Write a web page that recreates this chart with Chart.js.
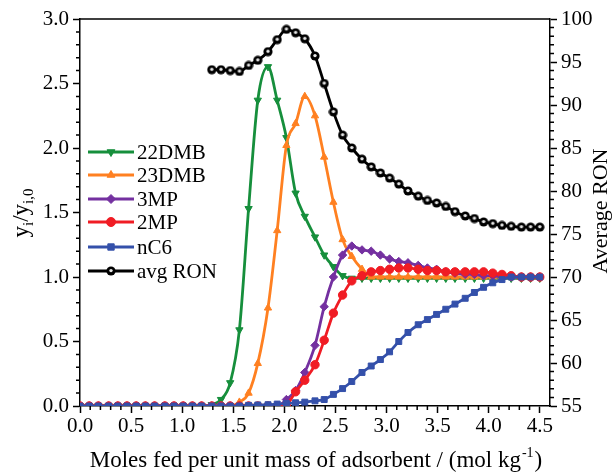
<!DOCTYPE html>
<html>
<head>
<meta charset="utf-8">
<script src="https://cdn.jsdelivr.net/npm/chart.js@4.4.1/dist/chart.umd.min.js"></script>
<style>
  html, body { margin: 0; padding: 0; background: #fff; }
  #wrap { width: 612px; height: 474px; }
</style>
</head>
<body>
<div id="wrap"><canvas id="chart" width="612" height="474"></canvas></div>
<script>
// x positions (mol/kg), same grid for every series
const xVals = [0.00, 0.09, 0.18, 0.28, 0.37, 0.46, 0.55, 0.64, 0.73, 0.83,
  0.92, 1.01, 1.10, 1.19, 1.29, 1.38, 1.47, 1.56, 1.65, 1.74,
  1.84, 1.93, 2.02, 2.11, 2.20, 2.30, 2.39, 2.48, 2.57, 2.66,
  2.76, 2.85, 2.94, 3.03, 3.12, 3.21, 3.31, 3.40, 3.49, 3.58,
  3.67, 3.77, 3.86, 3.95, 4.04, 4.13, 4.22, 4.32, 4.41, 4.50];

const dmb22 = [0, 0, 0, 0, 0, 0, 0, 0, 0, 0,
  0, 0, 0, 0, 0.01, 0.05, 0.18, 0.59, 1.53, 2.37,
  2.63, 2.37, 2.08, 1.65, 1.47, 1.31, 1.17, 1.08, 1.01, 0.99,
  0.99, 0.99, 0.99, 0.99, 0.99, 0.99, 0.99, 0.99, 0.99, 0.99,
  0.99, 0.99, 0.99, 0.99, 0.99, 0.99, 0.99, 0.99, 0.99, 0.99];

const dmb23 = [0, 0, 0, 0, 0, 0, 0, 0, 0, 0,
  0, 0, 0, 0, 0, 0, 0, 0.03, 0.10, 0.33,
  0.76, 1.36, 2.02, 2.19, 2.40, 2.25, 1.93, 1.58, 1.29, 1.16,
  1.06, 1.00, 1.00, 1.00, 1.00, 1.00, 1.00, 1.00, 1.00, 1.00,
  1.00, 1.00, 1.00, 1.00, 1.00, 1.00, 1.00, 1.00, 1.00, 1.00];

const mp3 = [0, 0, 0, 0, 0, 0, 0, 0, 0, 0,
  0, 0, 0, 0, 0, 0, 0, 0, 0, 0,
  0, 0, 0.05, 0.12, 0.26, 0.47, 0.77, 1.00, 1.17, 1.24,
  1.21, 1.20, 1.17, 1.14, 1.12, 1.11, 1.09, 1.07, 1.06, 1.04,
  1.03, 1.02, 1.02, 1.01, 1.01, 1.00, 1.00, 1.00, 1.00, 1.00];

const mp2 = [0, 0, 0, 0, 0, 0, 0, 0, 0, 0,
  0, 0, 0, 0, 0, 0, 0, 0, 0, 0,
  0, 0, 0.01, 0.11, 0.20, 0.32, 0.51, 0.72, 0.86, 0.97,
  1.01, 1.04, 1.05, 1.06, 1.07, 1.07, 1.06, 1.05, 1.05, 1.04,
  1.04, 1.04, 1.04, 1.04, 1.03, 1.02, 1.01, 1.00, 1.00, 1.00];

const nc6 = [0, 0, 0, 0, 0, 0, 0, 0, 0, 0,
  0, 0, 0, 0, 0, 0, 0, 0, 0.005, 0.008,
  0.01, 0.015, 0.02, 0.025, 0.03, 0.04, 0.05, 0.09, 0.135, 0.19,
  0.26, 0.31, 0.36, 0.42, 0.50, 0.57, 0.63, 0.67, 0.71, 0.75,
  0.79, 0.835, 0.88, 0.92, 0.955, 0.98, 1.00, 1.00, 1.00, 1.00];

const avgRon = [null, null, null, null, null, null, null, null, null, null,
  null, null, null, null, 94.1, 94.1, 94.0, 93.9, 94.6, 95.2,
  96.2, 97.6, 98.8, 98.4, 97.7, 95.7, 92.5, 89.2, 86.5, 85.0,
  83.7, 82.8, 82.1, 81.5, 80.8, 80.0, 79.4, 78.9, 78.6, 78.2,
  77.6, 77.1, 76.8, 76.4, 76.2, 76.0, 75.9, 75.8, 75.8, 75.8];

const xTicks = [0, 0.5, 1, 1.5, 2, 2.5, 3, 3.5, 4, 4.5];
const serif = '"Liberation Serif", "Times New Roman", serif';

// black ball marker with a small white highlight
const ball = document.createElement('canvas');
ball.width = 10; ball.height = 10;
(function () {
  const c = ball.getContext('2d');
  c.fillStyle = '#000';
  c.beginPath(); c.arc(5, 5, 4.6, 0, Math.PI * 2); c.fill();
  c.fillStyle = '#e8e8e8';
  c.beginPath(); c.arc(5, 4.6, 1.7, 0, Math.PI * 2); c.fill();
})();

function pts(arr) {
  const out = [];
  arr.forEach((v, i) => {
    if (v !== null) out.push({ x: xVals[i], y: v });
  });
  return out;
}

function series(label, arr, color, style, opts) {
  return Object.assign({
    label,
    data: pts(arr),
    borderColor: color,
    backgroundColor: color,
    pointBackgroundColor: color,
    pointBorderColor: color,
    pointStyle: style,
    pointRadius: 4.2,
    pointBorderWidth: 1,
    borderWidth: 2.8,
    cubicInterpolationMode: 'monotone',
    yAxisID: 'y'
  }, opts || {});
}

const datasets = [
  series('22DMB', dmb22, '#168f3c', 'triangle', { pointRotation: 180, order: 5 }),
  series('23DMB', dmb23, '#ff8021', 'triangle', { order: 4 }),
  series('3MP', mp3, '#7430a0', 'rectRot', { order: 3 }),
  series('2MP', mp2, '#f01c24', 'circle', { order: 2 }),
  series('nC6', nc6, '#3450aa', 'rect', { order: 1 }),
  series('avg RON', avgRon, '#000000', ball, { yAxisID: 'y1', order: 0 })
];

const extras = {
  id: 'extras',
  afterDraw(chart) {
    const ctx = chart.ctx;
    const a = chart.chartArea;
    const xs = chart.scales.x, ys = chart.scales.y, yr = chart.scales.y1;
    ctx.save();
    ctx.strokeStyle = '#000';
    ctx.lineWidth = 1.5;
    ctx.beginPath();
    ctx.moveTo(a.left, a.top);
    ctx.lineTo(a.right, a.top);
    // minor ticks
    for (let i = 1; i < 46; i++) {
      if (i % 5 === 0) continue;
      const px = xs.getPixelForValue(i / 10);
      ctx.moveTo(px, a.bottom);
      ctx.lineTo(px, a.bottom + 4);
    }
    for (let i = 1; i < 30; i++) {
      if (i % 5 === 0) continue;
      const py = ys.getPixelForValue(i / 10);
      ctx.moveTo(a.left - 4, py);
      ctx.lineTo(a.left, py);
    }
    for (let v = 56; v < 100; v++) {
      if (v % 5 === 0) continue;
      const py = yr.getPixelForValue(v);
      ctx.moveTo(a.right, py);
      ctx.lineTo(a.right + 4, py);
    }
    ctx.stroke();

    // legend
    const rows = [152, 175, 199, 222, 247, 271];
    chart.data.datasets.forEach((ds, i) => {
      const y = rows[i];
      ctx.strokeStyle = ds.borderColor;
      ctx.lineWidth = 2.8;
      ctx.beginPath();
      ctx.moveTo(88, y);
      ctx.lineTo(134, y);
      ctx.stroke();
      ctx.fillStyle = ds.pointBackgroundColor;
      ctx.strokeStyle = ds.pointBorderColor;
      ctx.lineWidth = ds.pointBorderWidth;
      Chart.helpers.drawPoint(ctx, {
        pointStyle: ds.pointStyle, radius: 4.5,
        rotation: ds.pointRotation || 0, borderWidth: ds.pointBorderWidth
      }, 111, y);
      ctx.fillStyle = '#000';
      ctx.font = '21px ' + serif;
      ctx.textAlign = 'left';
      ctx.textBaseline = 'middle';
      ctx.fillText(ds.label, 137, y + 1);
    });

    // x title with superscript
    ctx.fillStyle = '#000';
    ctx.textBaseline = 'alphabetic';
    ctx.textAlign = 'left';
    const main = 'Moles fed per unit mass of adsorbent / (mol kg';
    ctx.font = '23px ' + serif;
    const w1 = ctx.measureText(main).width;
    ctx.font = '14px ' + serif;
    const w2 = ctx.measureText('-1').width;
    ctx.font = '23px ' + serif;
    const w3 = ctx.measureText(')').width;
    let x0 = (a.left + a.right) / 2 - (w1 + w2 + w3) / 2;
    const yb = 467;
    ctx.fillText(main, x0, yb);
    ctx.font = '14px ' + serif;
    ctx.fillText('-1', x0 + w1 + 1, yb - 10);
    ctx.font = '23px ' + serif;
    ctx.fillText(')', x0 + w1 + w2 + 2, yb);

    // left y title: y_i / y_i,0
    ctx.save();
    ctx.translate(28, 213);
    ctx.rotate(-Math.PI / 2);
    const parts = [['y', 23, 0], ['i', 15, 5], ['/y', 23, 0], ['i,0', 15, 5]];
    let tw = 0;
    parts.forEach(p => { ctx.font = p[1] + 'px ' + serif; tw += ctx.measureText(p[0]).width; });
    let cx = -tw / 2;
    parts.forEach(p => {
      ctx.font = p[1] + 'px ' + serif;
      ctx.fillText(p[0], cx, p[2]);
      cx += ctx.measureText(p[0]).width;
    });
    ctx.restore();

    // right y title
    ctx.save();
    ctx.translate(601, 211);
    ctx.rotate(-Math.PI / 2);
    ctx.font = '22px ' + serif;
    ctx.textAlign = 'center';
    ctx.textBaseline = 'middle';
    ctx.fillText('Average RON', 0, 0);
    ctx.restore();
    ctx.restore();
  }
};

new Chart(document.getElementById('chart'), {
  type: 'line',
  data: { datasets },
  options: {
    responsive: false,
    animation: false,
    devicePixelRatio: 1,
    layout: { padding: { top: 19, left: 0, right: 0, bottom: 0 } },
    plugins: { legend: { display: false }, tooltip: { enabled: false } },
    scales: {
      x: {
        type: 'linear', min: 0, max: 4.6,
        afterFit(s) { s.height = 68; },
        afterBuildTicks(s) { s.ticks = xTicks.map(v => ({ value: v })); },
        ticks: {
          includeBounds: false, padding: 1, color: '#000',
          font: { family: serif, size: 21 },
          callback: v => v.toFixed(1)
        },
        grid: { drawOnChartArea: false, tickLength: 7, tickWidth: 1.5, tickColor: '#000' },
        border: { display: true, color: '#000', width: 1.5 }
      },
      y: {
        position: 'left', min: 0, max: 3,
        afterFit(s) { s.width = 80; },
        ticks: {
          stepSize: 0.5, padding: 4, color: '#000',
          font: { family: serif, size: 21 },
          callback: v => v.toFixed(1)
        },
        grid: { drawOnChartArea: false, tickLength: 7, tickWidth: 1.5, tickColor: '#000' },
        border: { display: true, color: '#000', width: 1.5 }
      },
      y1: {
        position: 'right', min: 55, max: 100,
        afterFit(s) { s.width = 62; },
        ticks: {
          stepSize: 5, padding: 4, color: '#000',
          font: { family: serif, size: 21 }
        },
        grid: { drawOnChartArea: false, tickLength: 7, tickWidth: 1.5, tickColor: '#000' },
        border: { display: true, color: '#000', width: 1.5 }
      }
    }
  },
  plugins: [extras]
});
</script>
</body>
</html>
